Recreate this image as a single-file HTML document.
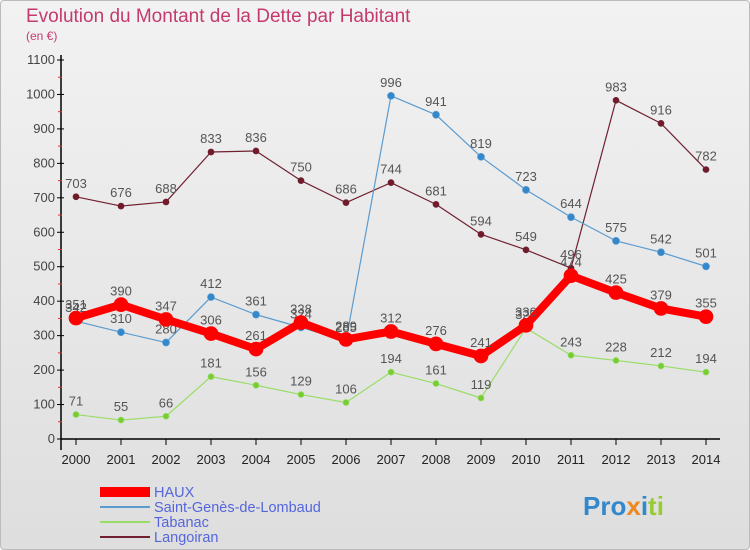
<!DOCTYPE html>
<html><head><meta charset="utf-8"><style>
body{margin:0;width:750px;height:550px;overflow:hidden;font-family:"Liberation Sans",sans-serif}
#wrap{position:absolute;left:0;top:0;width:748px;height:548px;border:1px solid #bbb;border-radius:4px;background:linear-gradient(#f2f2f2,#dedede)}
</style></head><body>
<div id="wrap">
<svg id="chart" width="750" height="550" style="position:absolute;left:-1px;top:-1px">
<text x="26" y="22" font-size="19" fill="#c43a6e">Evolution du Montant de la Dette par Habitant</text>
<text x="26" y="40" font-size="12" fill="#c43a6e">(en €)</text>
<g id="axes"></g><g id="series"></g>
<g>
<rect x="100" y="487" width="50" height="10" fill="#f00"/>
<text x="154" y="497" font-size="14.5" fill="#5566dd">HAUX</text>
<rect x="100" y="506" width="50" height="2" fill="#5a9bd0"/>
<text x="154" y="512" font-size="14.5" fill="#5566dd">Saint-Genès-de-Lombaud</text>
<rect x="100" y="521" width="50" height="2" fill="#99dd66"/>
<text x="154" y="527" font-size="14.5" fill="#5566dd">Tabanac</text>
<rect x="100" y="536" width="50" height="2" fill="#702030"/>
<text x="154" y="542" font-size="14.5" fill="#5566dd">Langoiran</text>
</g>
<text x="583" y="515" font-size="26" font-weight="bold"><tspan fill="#3388cc">Pro</tspan><tspan fill="#ee8822">x</tspan><tspan fill="#3388cc">i</tspan><tspan fill="#99cc33">ti</tspan></text>
</svg></div>
<script>
const years=[2000,2001,2002,2003,2004,2005,2006,2007,2008,2009,2010,2011,2012,2013,2014];
const yTicks=[0,100,200,300,400,500,600,700,800,900,1000,1100];
const haux=[351,390,347,306,261,338,289,312,276,241,330,474,425,379,355];
const saintGenes=[342,310,280,412,361,324,285,996,941,819,723,644,575,542,501];
const tabanac=[71,55,66,181,156,129,106,194,161,119,322,243,228,212,194];
const langoiran=[703,676,688,833,836,750,686,744,681,594,549,496,983,916,782];
const NS='http://www.w3.org/2000/svg';
const xS=i=>76+i*45, yS=v=>439-v*379/1100;
function mk(t,a,p){const e=document.createElementNS(NS,t);for(const k in a)e.setAttribute(k,a[k]);p.appendChild(e);return e;}
const ax=document.getElementById('axes');
let l=mk('line',{x1:61,y1:55,x2:61,y2:450,stroke:'#000','stroke-width':1.5},ax);


l=mk('line',{x1:61,y1:439,x2:720,y2:439,stroke:'#000','stroke-width':1.5},ax);


yTicks.forEach(v=>{const y=yS(v);
 mk('line',{x1:57,y1:y,x2:64,y2:y,stroke:'#000'},ax);
 if(v<1100)mk('line',{x1:58,y1:yS(v+50),x2:62,y2:yS(v+50),stroke:'#e03030'},ax);
 const t=mk('text',{x:55,y:y+4,'font-size':13,'text-anchor':'end',fill:'#444'},ax);t.textContent=v;
 
 });
years.forEach((yr,i)=>{const x=xS(i);
 mk('line',{x1:x,y1:439,x2:x,y2:445,stroke:'#000'},ax);
 const t=mk('text',{x:x,y:464,'font-size':13,'text-anchor':'middle',fill:'#222'},ax);t.textContent=yr;
 
 });
const sg=document.getElementById('series');
function draw(vals,color,w,r,dot,name){
 const g=mk('g',{},sg);
 
 
 mk('polyline',{points:vals.map((v,i)=>xS(i)+','+yS(v)).join(' '),fill:'none',stroke:color,'stroke-width':w,'stroke-linejoin':'round'},g);
 vals.forEach((v,i)=>{const c=mk('circle',{cx:xS(i),cy:yS(v),r:r,fill:dot,stroke:color,'stroke-width':0.7},g);
  
  
  const t=mk('text',{x:xS(i),y:yS(v)-9,'font-size':13,'text-anchor':'middle',fill:'#555'},g);t.textContent=v;});
}
draw(langoiran,'#702030',1.2,3,'#701a2a','series-langoiran');
draw(tabanac,'#99dd66',1.2,3,'#77cc33','series-tabanac');
draw(saintGenes,'#5a9bd0',1.2,3.5,'#3388cc','series-saint-genes');
draw(haux,'#f00',8,7,'#f00','series-haux');
</script>
</body></html>
